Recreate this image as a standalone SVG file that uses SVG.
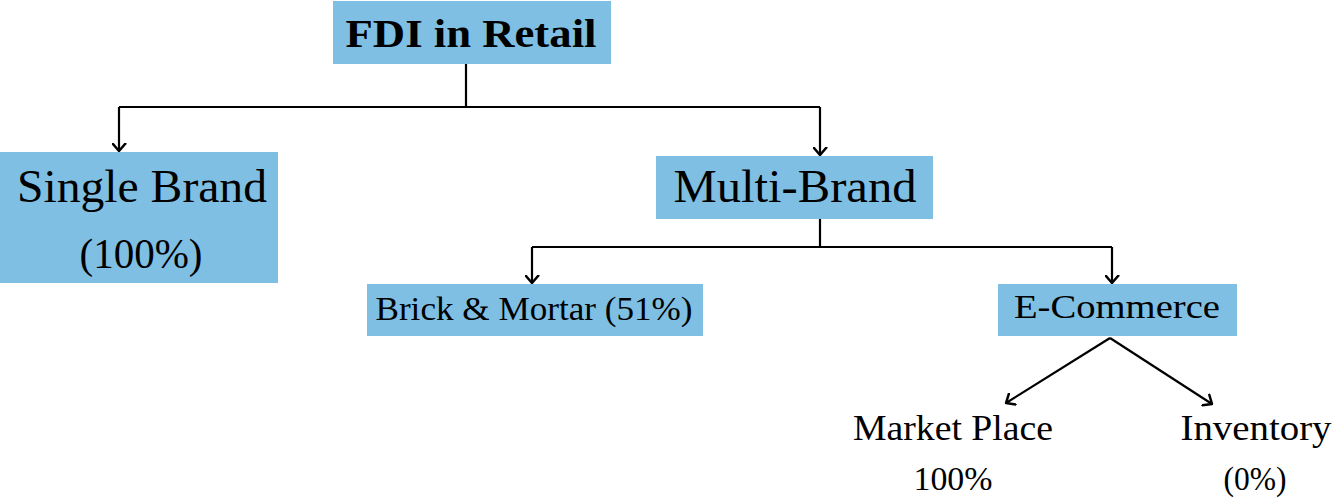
<svg xmlns="http://www.w3.org/2000/svg" width="1333" height="499" viewBox="0 0 1333 499">
<style>
.box{fill:#7fbfe3;}
.t{font-family:"Liberation Serif","DejaVu Serif",serif;fill:#000;text-anchor:middle;}
.c{fill:none;stroke:#000;stroke-width:2.2;}
</style>
<defs>
<marker id="ah" viewBox="0 0 10 15" refX="8.5" refY="7.5" markerWidth="10" markerHeight="15" orient="auto" markerUnits="userSpaceOnUse">
<polyline points="1.2,1.2 8.5,7.5 1.2,13.8" fill="none" stroke="#000" stroke-width="2.5" stroke-linecap="round" stroke-linejoin="round"/>
</marker>
</defs>
<rect width="1333" height="499" fill="#fff"/>
<g id="connectors">
<polyline class="c" points="466,64 466,107"/>
<polyline class="c" points="119,107 820,107"/>
<polyline class="c" points="119,107 119,151" marker-end="url(#ah)"/>
<polyline class="c" points="820,107 820,155" marker-end="url(#ah)"/>
<polyline class="c" points="820,219 820,247"/>
<polyline class="c" points="532,247 1112,247"/>
<polyline class="c" points="532,247 532,283" marker-end="url(#ah)"/>
<polyline class="c" points="1112,247 1112,283" marker-end="url(#ah)"/>
<polyline class="c" points="1110,338 1006,403" marker-end="url(#ah)"/>
<polyline class="c" points="1110,338 1212,404" marker-end="url(#ah)"/>
</g>
<g id="fdi">
<rect class="box" x="333" y="1" width="278" height="63"/>
<text class="t" x="471" y="47" font-size="40" font-weight="bold" textLength="251" lengthAdjust="spacingAndGlyphs">FDI in Retail</text>
</g>
<g id="single">
<rect class="box" x="0" y="152" width="278" height="131"/>
<text class="t" x="142" y="202" font-size="46" textLength="250" lengthAdjust="spacingAndGlyphs">Single Brand</text>
<text class="t" x="141" y="268" font-size="42" textLength="123" lengthAdjust="spacingAndGlyphs">(100%)</text>
</g>
<g id="multi">
<rect class="box" x="656" y="156" width="277" height="63"/>
<text class="t" x="795" y="202" font-size="46" textLength="243" lengthAdjust="spacingAndGlyphs">Multi-Brand</text>
</g>
<g id="brick">
<rect class="box" x="367" y="284" width="336" height="52"/>
<text class="t" x="534" y="320" font-size="34" textLength="317" lengthAdjust="spacingAndGlyphs">Brick &amp; Mortar (51%)</text>
</g>
<g id="ecom">
<rect class="box" x="998" y="284" width="239" height="52"/>
<text class="t" x="1117" y="318" font-size="34" textLength="206" lengthAdjust="spacingAndGlyphs">E-Commerce</text>
</g>
<g id="market">
<text class="t" x="953" y="440" font-size="36" textLength="200" lengthAdjust="spacingAndGlyphs">Market Place</text>
<text class="t" x="953" y="490" font-size="34" textLength="79" lengthAdjust="spacingAndGlyphs">100%</text>
</g>
<g id="inventory">
<text class="t" x="1256" y="440" font-size="36" textLength="151" lengthAdjust="spacingAndGlyphs">Inventory</text>
<text class="t" x="1255" y="490" font-size="34" textLength="63" lengthAdjust="spacingAndGlyphs">(0%)</text>
</g>
</svg>
